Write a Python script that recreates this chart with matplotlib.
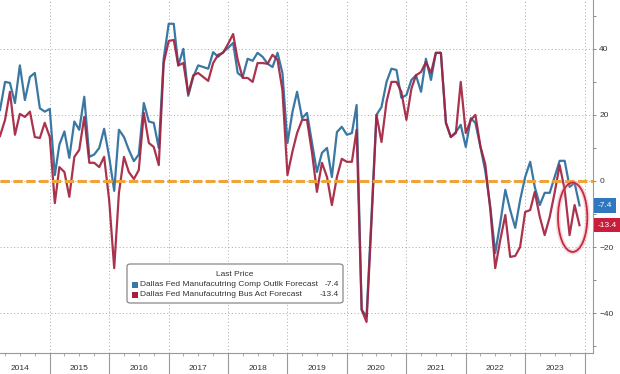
import numpy as np
import pandas as pd
import matplotlib
matplotlib.use("Agg")
import matplotlib.pyplot as plt
import matplotlib.dates as mdates
from matplotlib.patches import Ellipse, FancyBboxPatch, Rectangle

plt.rcParams['font.family'] = ['Liberation Sans', 'DejaVu Sans']

# monthly readings, Mar 2014 .. Dec 2023
dates = pd.date_range('2014-03-01', periods=118, freq='MS')

comp_outlk = [
    21.5, 30, 29.7, 23.6, 35, 24.5, 31.5, 32.7, 22, 21,                 # 2014
    21.8, 1.8, 11, 15, 7, 18, 15.5, 25.5, 7.3, 8, 10, 15.8,             # 2015
    7.3, -3, 15.5, 13.3, 9.4, 6, 8, 23.6, 18, 17.6, 10, 37,             # 2016
    47.6, 47.6, 35, 40, 25.8, 31.5, 35, 34.5, 34, 39, 37.6, 39,         # 2017
    40.3, 41.8, 32.7, 31.5, 37, 36.4, 38.8, 37.6, 35.5, 34.5, 38.8, 32.7,  # 2018
    11.5, 21, 27, 19, 20.6, 11.5, 2.7, 8.5, 10, 1.2, 14.8, 16.4,        # 2019
    14, 14.5, 23, -39, -41, -10, 20, 22.4, 30, 34, 33.6, 25.2,          # 2020
    26, 30.6, 32, 27, 37, 30.6, 38.8, 38.8, 17.6, 13.3, 14.8, 17,       # 2021
    10.3, 19, 17.6, 10.3, 3, -7.9, -21.8, -12.7, -2.7, -8.8, -14.2, -5.8,  # 2022
    1.2, 5.8, -1.8, -7.3, -3.6, -3.6, 1.2, 6.1, 6.1, -1.8, -0.6, -7.4,  # 2023
]
bus_act = [
    13.6, 18.5, 27, 14, 20.3, 19.4, 21, 13.3, 13, 17.6,
    13.3, -6.7, 4.2, 2.7, -4.8, 7.3, 9.4, 19.4, 5.5, 5.5, 4.2, 7.3,
    -5.8, -26.4, -3.6, 7.3, 2.7, 0.6, 3.3, 20.6, 11.5, 10.3, 4.8, 35.7,
    42.4, 42.7, 35, 35.7, 26.4, 32, 32.7, 31.5, 30.3, 35.7, 38.2, 38.8,
    41.5, 44.5, 36.7, 31.2, 31.2, 30, 35.7, 35.7, 35.5, 38.2, 36.7, 27.5,
    1.8, 9, 14.5, 18.5, 18.5, 8.5, -3.3, 5.5, 1.2, -7.3, 1.2, 6.7,
    5.8, 5.8, 15.5, -39, -42.7, -12, 20, 11.8, 24, 30, 30, 27,
    18.5, 28, 32, 33, 36, 32.7, 38.8, 38.8, 17.6, 13.3, 14.5, 30,
    14.5, 18.5, 20, 10.5, 5, -8.8, -26.4, -17.9, -10.3, -23, -22.7, -20,
    -9.4, -8.8, -3.3, -10.9, -16.4, -10.9, -3.6, 4.8, -2.7, -16.4, -7.3, -13.4,
]
labels = ['Dallas Fed Manufacutring Comp Outlk Forecast',
          'Dallas Fed Manufacutring Bus Act Forecast']
last_vals = ['-7.4', '-13.4']
years = list(range(2014, 2024))

blue = '#3a78a3'
red = '#a3213f'
orange = '#eea43a'
grid_c = '#a8a8a8'
txt_c = '#333333'
fs = 6

fig = plt.figure(figsize=(6.2, 3.74), dpi=100)
ax = fig.add_axes([0, 21 / 374, 593 / 620, 353 / 374])

ax.plot(dates, comp_outlk, color=blue, lw=1.6, zorder=2)
ax.plot(dates, bus_act, color=red, lw=1.6, alpha=0.92, zorder=2.1)
ax.axhline(0, color=orange, lw=2.2, dashes=(3.1, 1.1), zorder=3)

# circle around the latest readings
cx = mdates.date2num(pd.Timestamp('2023-10-20'))
ax.add_patch(Ellipse((cx, -11), 180, 21, fill=False, ec='#e88a98', lw=3.5, alpha=0.35, zorder=4))
ax.add_patch(Ellipse((cx, -11), 180, 21, fill=False, ec='#c32a40', lw=1.3, zorder=4))

ax.set_xlim(pd.Timestamp('2014-03-01'), pd.Timestamp('2024-02-22'))
ax.set_ylim(-52.1, 54.8)

# x axis: year separators, quarter ticks, year names in the middle
ax.xaxis.set_major_locator(mdates.YearLocator())
ax.xaxis.set_minor_locator(mdates.MonthLocator(bymonth=[4, 7, 10]))
ax.xaxis.set_major_formatter(plt.NullFormatter())
ax.tick_params(axis='x', which='major', length=15, width=0.8, color='#999999')
ax.tick_params(axis='x', which='minor', length=2.5, width=0.6, color='#999999')
for yr in years:
    ax.text(pd.Timestamp(f'{yr}-07-01'), -0.045, str(yr), transform=ax.get_xaxis_transform(),
            ha='center', va='center', fontsize=fs, color=txt_c)

# right y axis
ax.yaxis.tick_right()
ax.set_yticks([-40, -20, 0, 20, 40])
ax.set_yticks([-50, -30, -10, 10, 30, 50], minor=True)
ax.tick_params(axis='y', which='both', length=2.5, width=0.6, color='#777777',
               labelsize=fs, labelcolor=txt_c, pad=2)

ax.grid(True, which='major', color=grid_c, lw=0.7, linestyle=(0, (1, 2.5)))
for s in ['left', 'top']:
    ax.spines[s].set_visible(False)
for s in ['right', 'bottom']:
    ax.spines[s].set_color('#999999')
    ax.spines[s].set_linewidth(0.8)

# last value tags on the right
for val, col, y in [(last_vals[0], '#2f78bf', comp_outlk[-1]), (last_vals[1], '#c81e3c', bus_act[-1])]:
    ax.text(1.008, y, val, transform=ax.get_yaxis_transform(), ha='left', va='center',
            fontsize=fs, color='white', clip_on=False,
            bbox=dict(boxstyle='square,pad=0.45', fc=col, ec='none'))

# legend box
W, H = 620, 374
fig.add_artist(FancyBboxPatch((127 / W, 1 - 303 / H), 216 / W, 39 / H,
                              boxstyle='round,pad=0,rounding_size=0.006',
                              transform=fig.transFigure, fc='white', ec='#888888', lw=0.9))
fig.text(235 / W, 1 - 274 / H, 'Last Price', ha='center', va='center', fontsize=fs, color=txt_c)
for i, (lab, col) in enumerate(zip(labels, [blue, red])):
    yy = 1 - (285 + 9.5 * i) / H
    fig.add_artist(Rectangle((132 / W, yy - 3 / H), 6 / W, 6 / H, transform=fig.transFigure,
                             fc=col, ec='none'))
    fig.text(140 / W, yy, lab, ha='left', va='center', fontsize=fs, color=txt_c)
    fig.text(339 / W, yy, last_vals[i], ha='right', va='center', fontsize=fs, color=txt_c)

fig.savefig('out.png', dpi=100)
